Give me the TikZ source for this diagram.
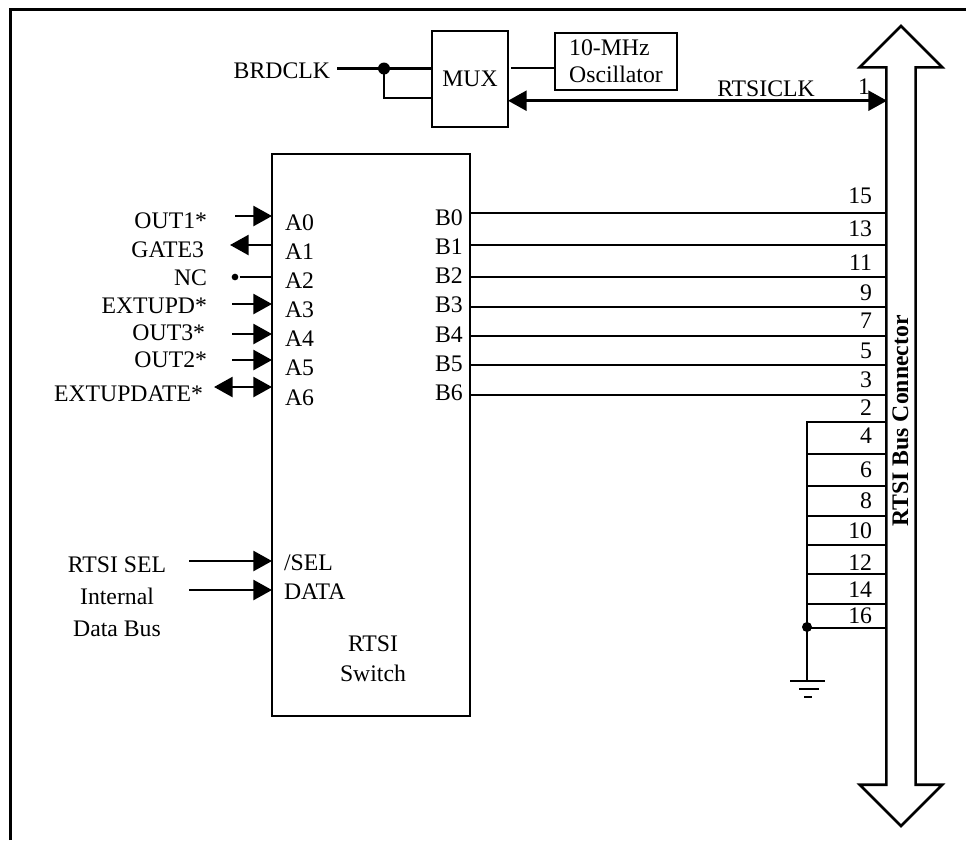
\documentclass[tikz,border=0pt]{standalone}
\usepackage{fontspec}
\setmainfont{Liberation Serif}
\usetikzlibrary{positioning,arrows.meta,shapes.arrows}

\begin{document}
\begin{tikzpicture}[
  x=0.75pt, y=-0.75pt,
  line width=1.9pt,
  font=\fontsize{17.8}{20}\selectfont,
  box/.style={draw, inner sep=0pt, outer sep=0pt, align=center},
  lbl/.style={inner sep=0pt, outer sep=0pt},
  pinlbl/.style={lbl, on grid},
  dot/.style={circle, fill, inner sep=0pt, minimum size=#1},
  arr/.style={-{Triangle[length=14pt, width=15pt]}},
  biarr/.style={{Triangle[length=14pt, width=15pt]}-{Triangle[length=14pt, width=15pt]}},
  bus/.style={draw, double arrow, rotate=90, inner sep=0pt, outer sep=0pt,
              text height=20pt, text depth=0pt, text width=1pt,
              minimum height=600pt, minimum width=60pt,
              double arrow head extend=20pt, double arrow tip angle=90}
]
\useasboundingbox (0,0) rectangle (966,840);
% ===== Frame =====
\draw[line width=2.25pt] (10.5,840) |- (966,9.5);

% ===== Clock section =====
\node[box, minimum width=57pt, minimum height=72pt] (mux) at (470,79) {MUX};
\node[box, minimum width=91.5pt, minimum height=42.5pt, align=left] (osc) at (616,61.5) {10-MHz\\[0.3pt]Oscillator};
\node[lbl, anchor=base east] (brdclk) at (330,78) {BRDCLK};
\node[lbl, anchor=base] (rtsiclk) at (766,96) {RTSICLK};
\coordinate (clkin) at (337,68.5);
\coordinate (muxlow) at (384,98);
\coordinate (oscout) at (511,68);
\node[dot=9pt] (clkdot) at (384,68.5) {};
\draw (clkin) -- (clkin -| mux.west);
\draw (clkdot.center) -- (muxlow) -- (muxlow -| mux.west);
\draw (oscout) -- (oscout -| osc.west);

% ===== Bus =====
\node[bus] (rtsibus) at (901,426) {};
\node[lbl, anchor=base, rotate=90, font=\fontsize{17.8}{20}\selectfont\bfseries] (buslbl) at (908,421) {RTSI Bus Connector};
\coordinate (p1) at (887,100.7);
\draw[biarr] (p1 -| mux.east) -- (p1);

% ===== Switch =====
\node[box, minimum width=148.5pt, minimum height=421.5pt] (sw) at (371,435) {};
\node[lbl, align=center] (swlbl) at (373,659) {RTSI\\[2.5pt]Switch};

% left pins
\node[pinlbl, anchor=base west] (a0) at (285,230) {A0};
\node[pinlbl, below=21.9pt of a0.center, anchor=center] (a1) {A1};
\node[pinlbl, below=21.9pt of a1.center, anchor=center] (a2) {A2};
\node[pinlbl, below=21.9pt of a2.center, anchor=center] (a3) {A3};
\node[pinlbl, below=21.9pt of a3.center, anchor=center] (a4) {A4};
\node[pinlbl, below=21.9pt of a4.center, anchor=center] (a5) {A5};
\node[pinlbl, below=21.9pt of a5.center, anchor=center] (a6) {A6};
\node[lbl, anchor=base west] (sel) at (284,570) {/SEL};
\node[lbl, anchor=base west] (data) at (284,599) {DATA};

% right pins
\node[pinlbl, anchor=base west] (b0) at (435,225) {B0};
\node[pinlbl, below=22pt of b0.center, anchor=center] (b1) {B1};
\node[pinlbl, below=22pt of b1.center, anchor=center] (b2) {B2};
\node[pinlbl, below=22pt of b2.center, anchor=center] (b3) {B3};
\node[pinlbl, below=22pt of b3.center, anchor=center] (b4) {B4};
\node[pinlbl, below=22pt of b4.center, anchor=center] (b5) {B5};
\node[pinlbl, below=22pt of b5.center, anchor=center] (b6) {B6};

% ===== Left signals =====
\node[lbl, anchor=base east] (out1) at (207,228) {OUT1*};
\node[lbl, anchor=base east] (gate3) at (204,257) {GATE3};
\node[lbl, anchor=base east] (nc) at (207,285) {NC};
\node[lbl, anchor=base east] (extupd) at (207,313) {EXTUPD*};
\node[lbl, anchor=base east] (out3) at (205,340) {OUT3*};
\node[lbl, anchor=base east] (out2) at (207,367) {OUT2*};
\node[lbl, anchor=base east] (extupdate) at (203,401) {EXTUPDATE*};
\node[lbl, anchor=base] (rtsisel) at (117,572) {RTSI SEL};
\node[lbl, align=center] (intbus) at (117,612) {Internal\\[4pt]Data Bus};

\coordinate (i0) at (235,216);
\coordinate (i1) at (230,245);
\coordinate (i3) at (232,304);
\coordinate (i4) at (232,334);
\coordinate (i5) at (232,360);
\coordinate (i6) at (214,387);
\coordinate (i7) at (189,561);
\coordinate (i8) at (189,590);
\node[dot=5pt] (ncdot) at (235,277) {};
\draw[arr] (i0) -- (i0 -| sw.west);
\draw[arr] (i1 -| sw.west) -- (i1);
\draw (ncdot) -- (ncdot -| sw.west);
\draw[arr] (i3) -- (i3 -| sw.west);
\draw[arr] (i4) -- (i4 -| sw.west);
\draw[arr] (i5) -- (i5 -| sw.west);
\draw[biarr] (i6) -- (i6 -| sw.west);
\draw[arr] (i7) -- (i7 -| sw.west);
\draw[arr] (i8) -- (i8 -| sw.west);

% ===== Odd lines, switch to bus =====
\coordinate (p15) at (885,213);
\coordinate (p13) at (887,245);
\coordinate (p11) at (887,277);
\coordinate (p9) at (885,307);
\coordinate (p7) at (887,336);
\coordinate (p5) at (885,365);
\coordinate (p3) at (885,395);
\draw (p15 -| sw.east) -- (p15);
\draw (p13 -| sw.east) -- (p13);
\draw (p11 -| sw.east) -- (p11);
\draw (p9 -| sw.east) -- (p9);
\draw (p7 -| sw.east) -- (p7);
\draw (p5 -| sw.east) -- (p5);
\draw (p3 -| sw.east) -- (p3);

% ===== Even lines, ground to bus =====
\coordinate (p2) at (887,422);
\coordinate (p4) at (887,454);
\coordinate (p6) at (887,486);
\coordinate (p8) at (887,516);
\coordinate (p10) at (887,545);
\coordinate (p12) at (887,574);
\coordinate (p14) at (887,604);
\coordinate (p16) at (887,628);
\coordinate (gnd) at (807,681);
\node[dot=7.5pt] (gnddot) at (807,627) {};
\draw (gnd) -- (gnd |- p2) -- (p2);
\draw (p4 -| gnd) -- (p4);
\draw (p6 -| gnd) -- (p6);
\draw (p8 -| gnd) -- (p8);
\draw (p10 -| gnd) -- (p10);
\draw (p12 -| gnd) -- (p12);
\draw (p14 -| gnd) -- (p14);
\draw (p16 -| gnd) -- (p16);
\draw ([xshift=-12.5pt]gnd) -- ([xshift=13.5pt]gnd);
\draw ([xshift=-6pt, yshift=-6pt]gnd) -- ([xshift=9pt, yshift=-6pt]gnd);
\draw ([xshift=-2pt, yshift=-12pt]gnd) -- ([xshift=4pt, yshift=-12pt]gnd);

% ===== Pin numbers =====
\node[lbl, anchor=base east] (n1) at (870,94) {1};
\node[lbl, anchor=base east] (n15) at (872,203) {15};
\node[lbl, anchor=base east] (n13) at (872,236) {13};
\node[lbl, anchor=base east] (n11) at (872,270) {11};
\node[lbl, anchor=base east] (n9) at (872,300) {9};
\node[lbl, anchor=base east] (n7) at (872,328) {7};
\node[lbl, anchor=base east] (n5) at (872,358) {5};
\node[lbl, anchor=base east] (n3) at (872,387) {3};
\node[lbl, anchor=base east] (n2) at (872,415) {2};
\node[lbl, anchor=base east] (n4) at (872,443) {4};
\node[lbl, anchor=base east] (n6) at (872,477) {6};
\node[lbl, anchor=base east] (n8) at (872,508) {8};
\node[lbl, anchor=base east] (n10) at (872,538) {10};
\node[lbl, anchor=base east] (n12) at (872,570) {12};
\node[lbl, anchor=base east] (n14) at (872,597) {14};
\node[lbl, anchor=base east] (n16) at (872,623) {16};

\end{tikzpicture}
\end{document}
